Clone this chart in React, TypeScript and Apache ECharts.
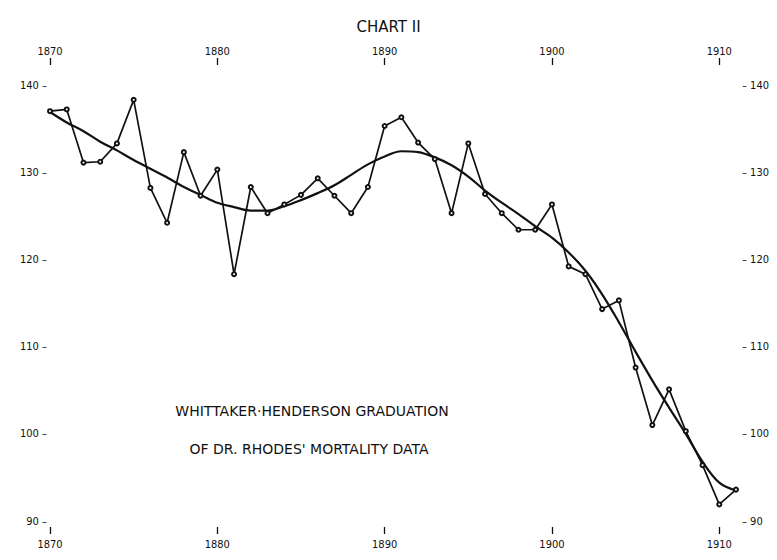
import React, { useEffect, useRef } from "react";
import * as echarts from "echarts";

const years = [
  1870, 1871, 1872, 1873, 1874, 1875, 1876, 1877, 1878, 1879,
  1880, 1881, 1882, 1883, 1884, 1885, 1886, 1887, 1888, 1889,
  1890, 1891, 1892, 1893, 1894, 1895, 1896, 1897, 1898, 1899,
  1900, 1901, 1902, 1903, 1904, 1905, 1906, 1907, 1908, 1909,
  1910, 1911,
];

// Dr Rhodes' observed mortality values
const observed = [
  137.0, 137.2, 131.1, 131.2, 133.3, 138.3, 128.2, 124.2, 132.3, 127.3,
  130.3, 118.3, 128.3, 125.3, 126.3, 127.4, 129.3, 127.3, 125.3, 128.3,
  135.3, 136.3, 133.4, 131.5, 125.3, 133.3, 127.5, 125.3, 123.4, 123.4,
  126.3, 119.2, 118.3, 114.3, 115.3, 107.6, 101.0, 105.1, 100.3, 96.4,
  91.9, 93.6,
];

// Whittaker-Henderson graduated values
const graduated = [
  136.9, 135.7, 134.7, 133.5, 132.5, 131.4, 130.4, 129.4, 128.3, 127.4,
  126.5, 126.0, 125.6, 125.6, 126.1, 126.8, 127.6, 128.5, 129.7, 130.9,
  131.8, 132.4, 132.3, 131.7, 130.8, 129.5, 127.9, 126.5, 125.2, 123.8,
  122.5, 120.8, 118.7, 116.0, 112.8, 109.4, 106.1, 103.0, 100.0, 96.8,
  94.4, 93.5,
];

const tickYears = [1870, 1880, 1890, 1900, 1910];
const yMin = 90;
const yMax = 140;
const yStep = 10;

const titleText = "CHART II";
const noteLine1 = "WHITTAKER·HENDERSON GRADUATION";
const noteLine2 = "OF DR. RHODES' MORTALITY DATA";

const FONT = "'DejaVu Sans Condensed', 'Liberation Sans Narrow', 'DejaVu Sans', sans-serif";
const FONT_WIDE = "'DejaVu Sans', 'Liberation Sans', sans-serif";

export default function App() {
  const ref = useRef<HTMLDivElement>(null);

  useEffect(() => {
    if (!ref.current) return;
    const chart = echarts.init(ref.current, undefined, { renderer: "svg" });

    const obsData = years.map((y, i) => [y, observed[i]]);
    const gradData = years.map((y, i) => [y, graduated[i]]);

    const xCommon = {
      type: "value" as const,
      min: 1870,
      max: 1911,
      axisLine: { show: false },
      splitLine: { show: false },
      axisTick: {
        show: true,
        customValues: tickYears,
        length: 7,
        lineStyle: { color: "#111", width: 1.3 },
      },
      axisLabel: {
        customValues: tickYears,
        color: "#111",
        fontFamily: FONT,
        fontSize: 11,
        formatter: (v: number) => String(v),
      },
    };

    const yCommon = {
      type: "value" as const,
      min: yMin,
      max: yMax,
      interval: yStep,
      axisLine: { show: false },
      axisTick: { show: false },
      splitLine: { show: false },
    };

    chart.setOption({
      animation: false,
      backgroundColor: "#fff",
      title: {
        text: titleText,
        left: "center",
        top: 14,
        textStyle: {
          fontFamily: FONT_WIDE,
          fontSize: 15,
          fontWeight: "normal",
          color: "#111",
        },
      },
      grid: {
        left: 50,
        right: 41,
        top: 85,
        bottom: 39,
        containLabel: false,
        outerBoundsMode: "none",
      },
      xAxis: [
        {
          ...xCommon,
          position: "bottom",
          offset: 6,
          axisLabel: { ...xCommon.axisLabel, margin: 12 },
        },
        {
          ...xCommon,
          position: "top",
          offset: 20,
          axisLabel: { ...xCommon.axisLabel, margin: 8 },
        },
      ],
      yAxis: [
        {
          ...yCommon,
          position: "left",
          axisLabel: {
            margin: 3,
            color: "#111",
            fontFamily: FONT,
            fontSize: 11,
            formatter: (v: number) => `${v} –`,
          },
        },
        {
          ...yCommon,
          position: "right",
          axisLabel: {
            margin: 6,
            color: "#111",
            fontFamily: FONT,
            fontSize: 11,
            formatter: (v: number) => `– ${v}`,
          },
        },
      ],
      graphic: [
        {
          type: "text",
          x: 312,
          y: 411,
          style: {
            text: noteLine1,
            textAlign: "center",
            textVerticalAlign: "middle",
            fontFamily: FONT_WIDE,
            fontSize: 14,
            fill: "#111",
          },
        },
        {
          type: "text",
          x: 309,
          y: 449,
          style: {
            text: noteLine2,
            textAlign: "center",
            textVerticalAlign: "middle",
            fontFamily: FONT_WIDE,
            fontSize: 14,
            fill: "#111",
          },
        },
      ],
      series: [
        {
          name: "Graduated",
          type: "line",
          xAxisIndex: 0,
          yAxisIndex: 0,
          data: gradData,
          smooth: 0.35,
          showSymbol: false,
          symbol: "none",
          lineStyle: { color: "#111", width: 2.2 },
          z: 2,
        },
        {
          name: "Observed",
          type: "line",
          xAxisIndex: 0,
          yAxisIndex: 0,
          data: obsData,
          symbol: "emptyCircle",
          symbolSize: 4,
          lineStyle: { color: "#111", width: 1.7 },
          itemStyle: { color: "#111", borderWidth: 1 },
          z: 3,
        },
      ],
    });

    return () => chart.dispose();
  }, []);

  return (
    <div
      ref={ref}
      style={{
        position: "fixed",
        left: 0,
        top: 0,
        width: 777,
        height: 560,
        background: "#fff",
      }}
    />
  );
}
